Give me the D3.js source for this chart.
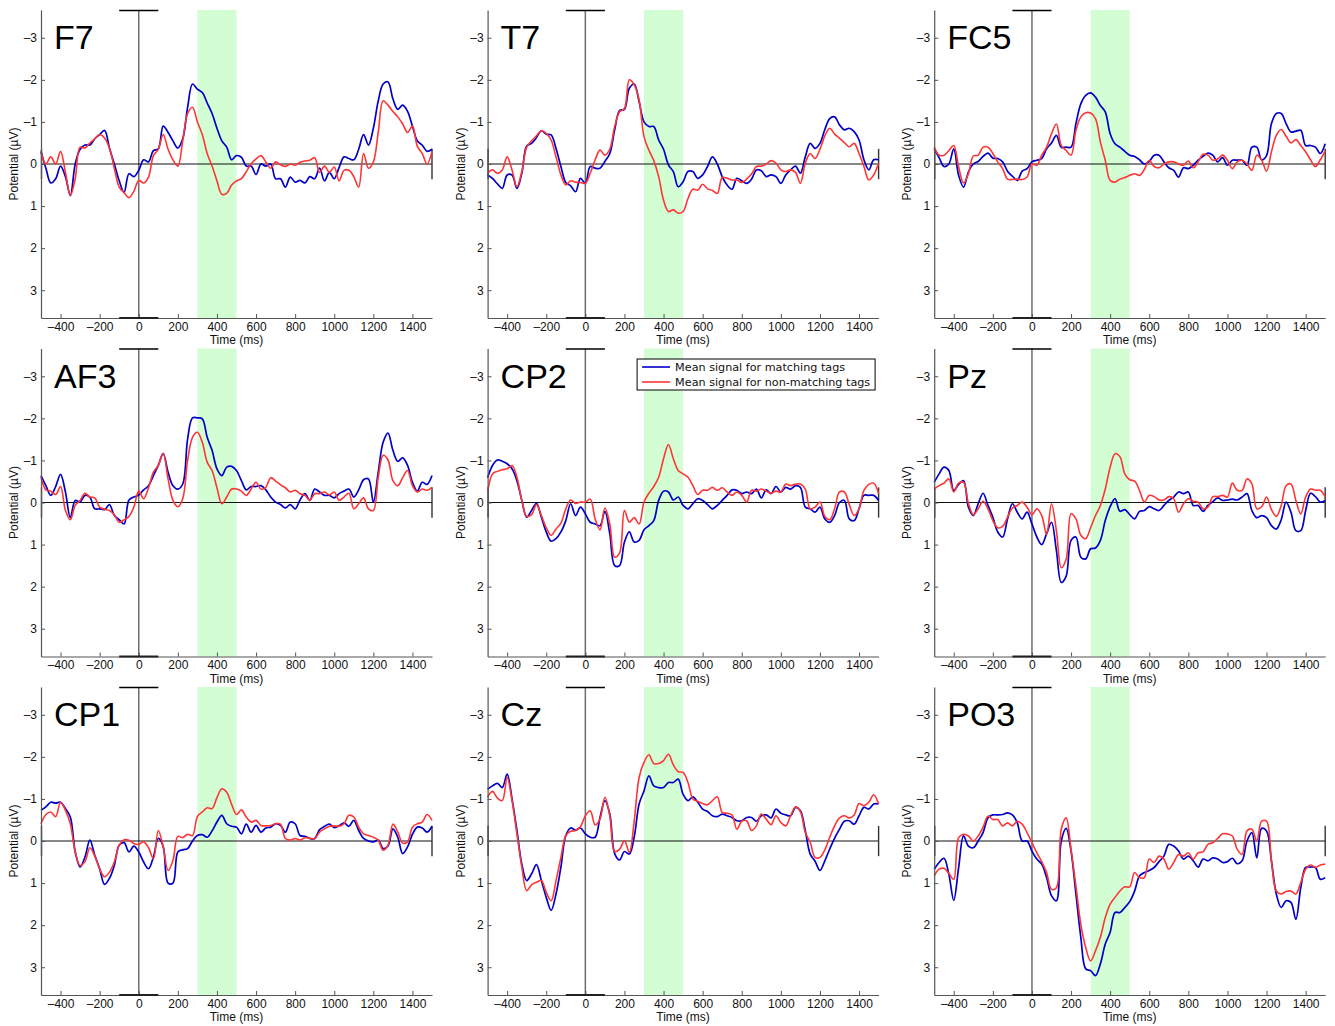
<!DOCTYPE html>
<html>
<head>
<meta charset="utf-8">
<script src="https://cdn.jsdelivr.net/npm/d3@7"></script>
<style>
  body { margin: 0; background: #fff; }
</style>
</head>
<body>
<div id="chart"></div>
<script>
// sampling grid (ms), one value every 25 ms
const times = d3.range(-500, 1501, 25);

const channels = ["F7", "T7", "FC5", "AF3", "CP2", "Pz", "CP1", "Cz", "PO3"];

// mean potentials (uV), matching tags (blue) and non-matching tags (red)
const f7Match = [-0.3, 0.1, 0.45, 0.35, 0.05, 0.3, 0.75, 0.0, -0.35, -0.45,
  -0.45, -0.6, -0.7, -0.8, -0.38, 0.0, 0.4, 0.67, 0.23, 0.3,
  0.15, -0.1, -0.05, -0.32, -0.36, -0.9, -0.75, -0.55, -0.38, -0.6,
  -1.35, -1.9, -1.78, -1.7, -1.45, -1.2, -0.85, -0.55, -0.4, -0.1,
  -0.2, -0.16, 0.05, 0.05, 0.25, 0.0, 0.05, 0.0, 0.35, 0.35,
  0.55, 0.31, 0.43, 0.39, 0.45, 0.3, 0.35, 0.1, 0.4, 0.2,
  0.35, 0.08, -0.17, -0.13, -0.1, -0.35, -0.7, -0.45, -0.85, -1.5,
  -1.9, -1.95, -1.55, -1.3, -1.4, -1.25, -0.9, -0.55, -0.45, -0.3,
  -0.35];
const f7Non = [-0.28, 0.0, -0.17, 0.0, -0.3, 0.2, 0.75, 0.35, -0.4, -0.38,
  -0.5, -0.6, -0.7, -0.62, -0.38, 0.1, 0.55, 0.68, 0.8, 0.65,
  0.39, 0.45, 0.31, -0.2, -0.35, -0.7, -0.35, -0.1, 0.05, -0.55,
  -1.2, -1.35, -1.0, -0.7, -0.25, 0.05, 0.4, 0.72, 0.7, 0.5,
  0.4, 0.35, 0.18, 0.0, -0.12, -0.2, -0.05, 0.1, -0.05, 0.02,
  0.06, 0.0, 0.03, -0.04, -0.07, -0.09, -0.15, 0.2, 0.05, 0.2,
  0.07, 0.4, 0.15, 0.15, 0.3, 0.55, -0.25, 0.1, -0.05, -0.75,
  -1.5, -1.4, -1.25, -1.12, -0.95, -0.75, -0.9, -0.42, -0.25, 0.0,
  -0.3];

const t7Match = [0.26, 0.34, 0.47, 0.58, 0.26, 0.26, 0.58, 0.22, -0.43, -0.49,
  -0.63, -0.79, -0.71, -0.69, -0.37, 0.06, 0.44, 0.52, 0.66, 0.34,
  0.46, 0.06, 0.1, 0.1, -0.06, -0.25, -0.81, -1.27, -1.3, -1.8,
  -1.9, -1.48, -1.0, -0.89, -0.89, -0.57, -0.35, 0.02, 0.18, 0.54,
  0.42, 0.18, 0.18, 0.34, 0.26, 0.06, -0.17, 0.0, 0.3, 0.5,
  0.6, 0.34, 0.4, 0.46, 0.36, 0.14, 0.16, 0.3, 0.26, 0.3,
  0.46, 0.26, 0.14, 0.05, 0.22, -0.17, -0.49, -0.37, -0.49, -0.82,
  -1.08, -1.12, -0.93, -0.81, -0.85, -0.77, -0.57, -0.1, 0.14, -0.1,
  -0.1];
const t7Non = [0.22, 0.14, 0.22, 0.14, -0.17, 0.14, 0.54, 0.18, -0.4, -0.55,
  -0.67, -0.79, -0.73, -0.57, -0.17, 0.26, 0.5, 0.4, 0.43, 0.44,
  0.46, 0.22, -0.1, -0.33, -0.21, -0.35, -0.89, -1.24, -1.32, -2.0,
  -1.88, -1.52, -0.65, -0.33, -0.08, 0.3, 0.86, 1.13, 1.09, 1.17,
  1.13, 0.82, 0.6, 0.62, 0.48, 0.59, 0.63, 0.7, 0.32, 0.34,
  0.38, 0.38, 0.44, 0.36, 0.24, 0.06, 0.05, 0.0, -0.08, -0.02,
  0.14, 0.18, 0.14, 0.2, 0.46, -0.02, -0.25, -0.13, -0.35, -0.67,
  -0.85, -0.71, -0.61, -0.51, -0.41, -0.49, -0.25, 0.06, 0.38, 0.26,
  -0.02];

const fc5Match = [-0.36, -0.15, 0.06, 0.0, -0.36, 0.27, 0.55, 0.19, 0.0, -0.06,
  -0.18, -0.26, -0.14, -0.13, -0.05, 0.17, 0.29, 0.39, 0.17, 0.11,
  -0.05, -0.09, -0.13, -0.36, -0.5, -0.68, -0.4, -0.4, -0.4, -0.96,
  -1.43, -1.63, -1.69, -1.59, -1.39, -1.24, -0.72, -0.48, -0.4, -0.3,
  -0.21, -0.18, -0.1, 0.0, -0.06, -0.21, -0.21, -0.05, 0.09, 0.15,
  0.31, 0.09, 0.11, 0.03, -0.09, -0.18, -0.26, -0.21, -0.05, -0.15,
  0.03, -0.09, -0.09, -0.09, 0.03, -0.4, -0.4, -0.1, -0.2, -0.96,
  -1.2, -1.2, -0.96, -0.76, -0.78, -0.8, -0.44, -0.44, -0.4, -0.25,
  -0.48];
const fc5Non = [-0.4, -0.21, -0.21, -0.32, -0.44, 0.07, 0.45, 0.23, -0.19, -0.21,
  -0.4, -0.4, -0.25, -0.05, 0.11, 0.36, 0.37, 0.36, 0.37, 0.31,
  0.0, 0.03, -0.21, -0.4, -0.72, -0.95, -0.44, -0.32, -0.21, -0.8,
  -1.12, -1.22, -1.21, -1.08, -0.52, -0.09, 0.39, 0.43, 0.36, 0.32,
  0.27, 0.23, 0.27, 0.13, -0.09, 0.06, 0.09, 0.0, -0.05, -0.05,
  0.0, 0.03, -0.07, 0.09, -0.05, -0.23, -0.21, -0.09, -0.12, -0.21,
  -0.09, 0.11, -0.05, -0.09, 0.0, 0.15, -0.21, -0.09, 0.17, -0.29,
  -0.68, -0.82, -0.66, -0.5, -0.58, -0.44, -0.29, -0.1, 0.06, -0.1,
  -0.32];

const af3Match = [-0.64, -0.4, -0.17, -0.38, -0.67, -0.25, 0.36, -0.05, -0.01, -0.17,
  -0.13, 0.15, 0.15, 0.17, 0.05, 0.31, 0.41, 0.51, -0.06, -0.13,
  -0.18, -0.3, -0.4, -0.64, -0.88, -1.16, -0.72, -0.4, -0.32, -0.44,
  -1.51, -2.01, -2.01, -1.99, -1.55, -1.24, -0.8, -0.64, -0.84, -0.86,
  -0.76, -0.52, -0.3, -0.38, -0.38, -0.4, -0.3, -0.13, -0.01, 0.05,
  0.13, 0.05, 0.15, -0.06, -0.21, -0.05, -0.32, -0.25, -0.17, -0.17,
  -0.11, -0.21, -0.27, -0.32, -0.13, -0.3, -0.54, -0.56, -0.01, -0.72,
  -1.43, -1.65, -1.24, -0.98, -1.06, -0.88, -0.48, -0.27, -0.48, -0.43,
  -0.64];
const af3Non = [-0.6, -0.3, -0.27, -0.19, -0.38, 0.19, 0.41, 0.07, -0.05, -0.22,
  -0.13, -0.11, 0.11, 0.16, 0.19, 0.29, 0.47, 0.41, 0.33, 0.11,
  -0.27, -0.09, -0.35, -0.72, -0.88, -1.17, -0.56, -0.05, 0.1, -0.09,
  -1.0, -1.55, -1.67, -1.43, -0.96, -0.76, -0.35, 0.03, -0.13, -0.32,
  -0.32, -0.27, -0.17, -0.32, -0.48, -0.32, -0.36, -0.59, -0.51, -0.42,
  -0.35, -0.25, -0.29, -0.21, -0.17, -0.05, -0.21, -0.21, -0.25, -0.18,
  -0.25, -0.05, -0.13, -0.22, 0.15, 0.03, -0.11, 0.15, 0.19, -0.6,
  -1.12, -1.01, -0.52, -0.4, -0.59, -0.76, -0.4, -0.25, -0.32, -0.29,
  -0.36];

const cp2Match = [-0.59, -0.88, -1.01, -0.98, -0.92, -0.8, -0.52, -0.05, 0.35, 0.19,
  0.02, 0.35, 0.7, 0.92, 0.86, 0.7, 0.43, 0.03, 0.31, 0.11,
  0.27, 0.47, 0.51, 0.55, 0.21, 0.74, 1.5, 1.5, 0.94, 0.7,
  0.94, 0.9, 0.65, 0.55, 0.43, -0.05, -0.27, -0.25, -0.06, -0.13,
  0.07, 0.15, 0.03, -0.09, -0.05, 0.05, 0.15, 0.07, -0.05, -0.17,
  -0.3, -0.29, -0.21, -0.25, -0.21, -0.32, -0.11, -0.3, -0.21, -0.38,
  -0.25, -0.36, -0.32, -0.4, -0.36, 0.11, 0.15, 0.23, 0.11, 0.39,
  0.47, 0.31, 0.0, -0.05, 0.39, 0.43, 0.15, -0.17, -0.17, -0.17,
  -0.05];
const cp2Non = [-0.25, -0.68, -0.74, -0.78, -0.8, -0.88, -0.6, -0.05, 0.33, 0.29,
  0.05, 0.31, 0.6, 0.78, 0.63, 0.49, 0.15, -0.06, 0.02, -0.01,
  -0.01, -0.08, 0.39, 0.65, 0.13, 0.51, 1.3, 1.2, 0.19, 0.47,
  0.36, 0.51, -0.01, -0.22, -0.38, -0.6, -1.04, -1.38, -1.04, -0.76,
  -0.68, -0.6, -0.4, -0.19, -0.29, -0.29, -0.36, -0.29, -0.35, -0.25,
  -0.17, -0.25, -0.17, -0.01, -0.29, -0.27, -0.32, -0.27, -0.22, -0.27,
  -0.25, -0.44, -0.4, -0.44, -0.44, -0.32, 0.15, 0.11, -0.01, 0.33,
  0.41, 0.15, -0.25, -0.25, 0.05, 0.31, 0.15, -0.29, -0.43, -0.46,
  -0.21];

const pzMatch = [-0.48, -0.68, -0.84, -0.76, -0.29, -0.43, -0.52, 0.11, 0.31, 0.03,
  -0.22, 0.07, 0.35, 0.7, 0.82, 0.39, 0.03, 0.23, 0.39, 0.23,
  0.51, 0.82, 1.0, 0.74, 0.47, 1.14, 1.9, 1.75, 0.9, 0.82,
  1.3, 1.34, 1.1, 1.08, 0.9, 0.43, 0.1, -0.09, 0.21, 0.17,
  0.29, 0.39, 0.21, 0.19, 0.1, 0.15, 0.19, 0.07, -0.05, -0.13,
  -0.25, -0.21, -0.25, 0.07, 0.07, 0.21, 0.07, -0.02, -0.11, -0.05,
  -0.06, -0.08, -0.06, -0.13, -0.21, 0.19, 0.36, 0.31, 0.36, 0.55,
  0.63, 0.41, -0.01, 0.23, 0.67, 0.67, 0.19, -0.22, -0.14, -0.01,
  -0.05];
const pzNon = [-0.32, -0.4, -0.46, -0.56, -0.25, -0.46, -0.48, 0.02, 0.29, 0.15,
  -0.03, 0.15, 0.43, 0.6, 0.57, 0.35, 0.13, 0.07, -0.01, 0.11,
  0.29, 0.15, 0.31, 0.76, 0.03, 0.67, 1.55, 1.35, 0.27, 0.39,
  0.78, 0.86, 0.6, 0.31, 0.07, -0.32, -0.84, -1.16, -1.09, -0.68,
  -0.54, -0.51, -0.29, -0.01, -0.17, -0.14, -0.06, -0.06, -0.14, -0.09,
  0.23, 0.03, -0.09, -0.03, -0.01, 0.15, 0.11, -0.14, -0.14, -0.17,
  -0.13, -0.46, -0.29, -0.29, -0.56, -0.44, 0.15, 0.1, -0.13, 0.17,
  0.33, 0.07, -0.4, -0.44, -0.05, 0.27, -0.13, -0.32, -0.29, -0.29,
  -0.13];

const cp1Match = [-0.73, -0.81, -0.92, -0.9, -0.92, -0.77, -0.57, 0.26, 0.62, 0.38,
  -0.02, 0.34, 0.66, 1.03, 0.89, 0.58, 0.1, 0.04, 0.26, 0.12,
  0.26, 0.5, 0.66, 0.38, -0.06, 0.13, 1.0, 1.0, 0.26, 0.21,
  0.18, 0.0, -0.13, -0.15, -0.09, -0.24, -0.45, -0.61, -0.41, -0.35,
  -0.33, -0.17, -0.4, -0.21, -0.37, -0.21, -0.31, -0.33, -0.41, -0.37,
  -0.21, -0.45, -0.41, -0.13, -0.11, -0.06, -0.06, -0.27, -0.35, -0.4,
  -0.32, -0.36, -0.43, -0.35, -0.49, -0.25, -0.06, 0.0, 0.02, -0.02,
  0.18, 0.12, -0.29, -0.09, 0.3, 0.14, -0.16, -0.33, -0.31, -0.21,
  -0.35];
const cp1Non = [-0.41, -0.63, -0.69, -0.58, -0.92, -0.73, -0.41, 0.26, 0.58, 0.49,
  0.16, 0.36, 0.66, 0.85, 0.74, 0.5, 0.1, -0.03, -0.02, 0.06,
  0.08, 0.02, 0.16, 0.42, -0.25, 0.14, 0.7, 0.46, -0.11, -0.08,
  -0.16, -0.13, -0.58, -0.69, -0.79, -0.77, -1.03, -1.24, -1.16, -0.87,
  -0.63, -0.74, -0.57, -0.45, -0.49, -0.37, -0.36, -0.37, -0.41, -0.4,
  -0.06, -0.02, -0.06, -0.02, -0.08, -0.06, -0.06, -0.21, -0.29, -0.35,
  -0.36, -0.35, -0.41, -0.61, -0.57, -0.33, -0.17, -0.13, -0.09, -0.02,
  0.22, 0.1, -0.4, -0.21, 0.05, 0.02, -0.33, -0.41, -0.45, -0.63,
  -0.49];

const czMatch = [-1.23, -1.31, -1.37, -1.27, -1.59, -1.0, -0.25, 0.55, 0.94, 0.78,
  0.56, 0.94, 1.34, 1.65, 1.26, 0.62, -0.13, -0.31, -0.26, -0.31,
  -0.17, -0.09, -0.09, -0.56, -0.96, -0.64, 0.3, 0.45, 0.25, 0.31,
  -0.1, -0.88, -1.19, -1.55, -1.31, -1.27, -1.27, -1.39, -1.39, -1.47,
  -1.11, -0.96, -1.05, -0.92, -0.76, -0.7, -0.6, -0.58, -0.64, -0.6,
  -0.56, -0.48, -0.48, -0.56, -0.56, -0.47, -0.6, -0.62, -0.55, -0.76,
  -0.66, -0.62, -0.6, -0.8, -0.72, -0.25, 0.31, 0.48, 0.7, 0.47,
  0.19, -0.07, -0.28, -0.47, -0.48, -0.4, -0.6, -0.8, -0.76, -0.88,
  -0.88];
const czNon = [-1.04, -1.18, -1.02, -0.96, -1.51, -0.96, -0.17, 0.62, 1.18, 1.04,
  0.98, 0.94, 1.22, 1.42, 0.94, 0.39, -0.13, -0.23, -0.25, -0.34,
  -0.6, -0.72, -0.38, -0.52, -1.04, -0.6, 0.25, 0.2, -0.01, 0.27,
  -0.48, -1.51, -1.87, -2.05, -1.84, -1.84, -1.91, -2.06, -1.81, -1.65,
  -1.63, -1.39, -1.0, -0.94, -0.89, -0.86, -0.96, -1.05, -0.68, -0.66,
  -0.62, -0.28, -0.47, -0.48, -0.25, -0.36, -0.64, -0.52, -0.39, -0.6,
  -0.44, -0.36, -0.6, -0.81, -0.7, -0.2, 0.03, 0.39, 0.39, 0.21,
  -0.09, -0.36, -0.55, -0.6, -0.55, -0.62, -0.89, -0.84, -0.92, -1.1,
  -0.88];

const po3Match = [0.67, 0.51, 0.41, 0.79, 1.41, 0.63, -0.12, 0.12, 0.16, 0.0,
  -0.2, -0.55, -0.62, -0.62, -0.63, -0.67, -0.62, -0.43, 0.0, 0.0,
  0.24, 0.43, 0.55, 0.87, 1.3, 1.42, 0.0, -0.3, 0.24, 1.26,
  2.29, 3.04, 3.08, 3.2, 2.92, 2.45, 2.17, 1.7, 1.7, 1.58,
  1.44, 1.19, 0.83, 0.75, 0.7, 0.63, 0.49, 0.36, 0.08, 0.12,
  0.24, 0.43, 0.36, 0.47, 0.62, 0.43, 0.47, 0.4, 0.43, 0.51,
  0.49, 0.41, 0.54, 0.47, 0.0, -0.2, 0.4, -0.3, -0.24, 0.47,
  1.26, 1.58, 1.42, 1.46, 1.86, 1.11, 0.63, 0.62, 0.63, 0.91,
  0.87];
const po3Non = [0.83, 0.67, 0.65, 0.77, 0.91, -0.08, -0.16, -0.12, 0.0, -0.12,
  -0.33, -0.59, -0.51, -0.51, -0.36, -0.43, -0.36, -0.47, -0.4, -0.2,
  0.04, 0.28, 0.49, 0.75, 1.15, 1.11, -0.28, -0.55, 0.2, 1.07,
  1.98, 2.53, 2.85, 2.61, 2.29, 1.82, 1.5, 1.34, 1.19, 1.09,
  1.09, 0.75, 0.87, 0.87, 0.43, 0.51, 0.36, 0.43, 0.67, 0.51,
  0.32, 0.36, 0.28, 0.43, 0.28, 0.26, 0.08, 0.04, -0.06, -0.17,
  -0.17, -0.12, 0.2, 0.32, -0.24, -0.28, 0.0, -0.47, -0.47, 0.47,
  1.19, 1.26, 1.2, 1.19, 1.26, 0.99, 0.67, 0.57, 0.63, 0.57,
  0.55];

const matching = [f7Match, t7Match, fc5Match, af3Match, cp2Match, pzMatch, cp1Match, czMatch, po3Match];
const nonMatching = [f7Non, t7Non, fc5Non, af3Non, cp2Non, pzNon, cp1Non, czNon, po3Non];

const xTicks = [-400, -200, 0, 200, 400, 600, 800, 1000, 1200, 1400];
const yTicks = [-3, -2, -1, 0, 1, 2, 3];
const n400Window = [300, 500];
const legendLabels = ["Mean signal for matching tags", "Mean signal for non-matching tags"];

const colors = { match: "#0000c8", non: "#ff3535" };
const sans = "'Liberation Sans', Arial, sans-serif";

const width = 1335, height = 1026;
const pw = 391, ph = 308;
const left0 = 41, top0 = 10, colStep = 446.6, rowStep = 338.5;

const svg = d3.select("#chart").append("svg")
  .attr("width", width)
  .attr("height", height);

const x = d3.scaleLinear().domain([-500, 1500]).range([0, pw]);
const y = d3.scaleLinear().domain([-3.66, 3.66]).range([0, ph]);

// matlab style minus sign
const fmt = function(d) {
  return d < 0 ? "\u2013" + Math.abs(d) : String(d);
};

const line = d3.line()
  .x(function(d, i) { return x(times[i]); })
  .y(function(d) { return y(d); })
  .curve(d3.curveCatmullRom.alpha(0.5));

channels.forEach(function(name, idx) {
  const col = idx % 3, row = Math.floor(idx / 3);
  const g = svg.append("g")
    .attr("transform", "translate(" + (left0 + col * colStep) + "," + (top0 + row * rowStep) + ")");

  // shaded N400 window
  g.append("rect")
    .attr("x", x(n400Window[0]))
    .attr("y", 0)
    .attr("width", x(n400Window[1]) - x(n400Window[0]))
    .attr("height", ph)
    .attr("fill", "#d3fdd3");

  // stimulus onset
  g.append("line")
    .attr("x1", x(0)).attr("x2", x(0))
    .attr("y1", 0).attr("y2", ph)
    .attr("stroke", "#6e6e6e")
    .attr("stroke-width", 1.5);
  g.append("line")
    .attr("x1", x(-100)).attr("x2", x(100))
    .attr("y1", 0.5).attr("y2", 0.5)
    .attr("stroke", "#000")
    .attr("stroke-width", 1.3);

  // baseline
  g.append("line")
    .attr("x1", 0).attr("x2", pw)
    .attr("y1", y(0)).attr("y2", y(0))
    .attr("stroke", "#111")
    .attr("stroke-width", 1.1);
  g.append("line")
    .attr("x1", pw).attr("x2", pw)
    .attr("y1", y(-0.36)).attr("y2", y(0.36))
    .attr("stroke", "#333")
    .attr("stroke-width", 1.4);
  g.append("line")
    .attr("x1", 0.5).attr("x2", 0.5)
    .attr("y1", y(-0.36)).attr("y2", y(0.36))
    .attr("stroke", "#333")
    .attr("stroke-width", 1.4);

  g.append("path")
    .datum(matching[idx])
    .attr("fill", "none")
    .attr("stroke", colors.match)
    .attr("stroke-width", 1.7)
    .attr("d", line);
  g.append("path")
    .datum(nonMatching[idx])
    .attr("fill", "none")
    .attr("stroke", colors.non)
    .attr("stroke-width", 1.6)
    .attr("d", line);

  // axes
  const yAxis = g.append("g")
    .call(d3.axisLeft(y).tickValues(yTicks).tickSize(-4).tickSizeOuter(0).tickPadding(4).tickFormat(fmt));
  const xAxis = g.append("g")
    .attr("transform", "translate(0," + ph + ")")
    .call(d3.axisBottom(x).tickValues(xTicks).tickSize(-4).tickSizeOuter(0).tickPadding(4).tickFormat(fmt));
  [yAxis, xAxis].forEach(function(a) {
    a.select(".domain").attr("stroke", "#555").attr("stroke-width", 1.2);
    a.selectAll(".tick line").attr("stroke", "#555");
    a.selectAll("text")
      .attr("font-family", sans)
      .attr("font-size", 12)
      .attr("fill", "#111");
  });

  g.append("line")
    .attr("x1", x(-100)).attr("x2", x(100))
    .attr("y1", ph).attr("y2", ph)
    .attr("stroke", "#222")
    .attr("stroke-width", 2);

  g.append("text")
    .attr("x", pw / 2)
    .attr("y", ph + 26)
    .attr("text-anchor", "middle")
    .attr("font-family", sans)
    .attr("font-size", 12)
    .attr("fill", "#111")
    .text("Time (ms)");

  g.append("text")
    .attr("transform", "translate(-27," + (ph / 2) + ") rotate(-90)")
    .attr("dy", "0.35em")
    .attr("text-anchor", "middle")
    .attr("font-family", sans)
    .attr("font-size", 12)
    .attr("fill", "#111")
    .text("Potential (\u00b5V)");

  g.append("text")
    .attr("x", 13)
    .attr("y", 39)
    .attr("font-family", sans)
    .attr("font-size", 34)
    .attr("fill", "#000")
    .text(name);

  if (name === "CP2") {
    const lg = g.append("g").attr("transform", "translate(149.5,10.5)");
    lg.append("rect")
      .attr("width", 238)
      .attr("height", 31)
      .attr("fill", "#fff")
      .attr("stroke", "#000")
      .attr("stroke-width", 1);
    [colors.match, colors.non].forEach(function(c, i) {
      lg.append("line")
        .attr("x1", 5).attr("x2", 33)
        .attr("y1", 8 + i * 15).attr("y2", 8 + i * 15)
        .attr("stroke", c)
        .attr("stroke-width", 1.6);
      lg.append("text")
        .attr("x", 38)
        .attr("y", 8 + i * 15)
        .attr("dy", "0.35em")
        .attr("font-family", "'DejaVu Sans', sans-serif")
        .attr("font-size", 11.2)
        .attr("fill", "#111")
        .text(legendLabels[i]);
    });
  }
});
</script>
</body>
</html>
